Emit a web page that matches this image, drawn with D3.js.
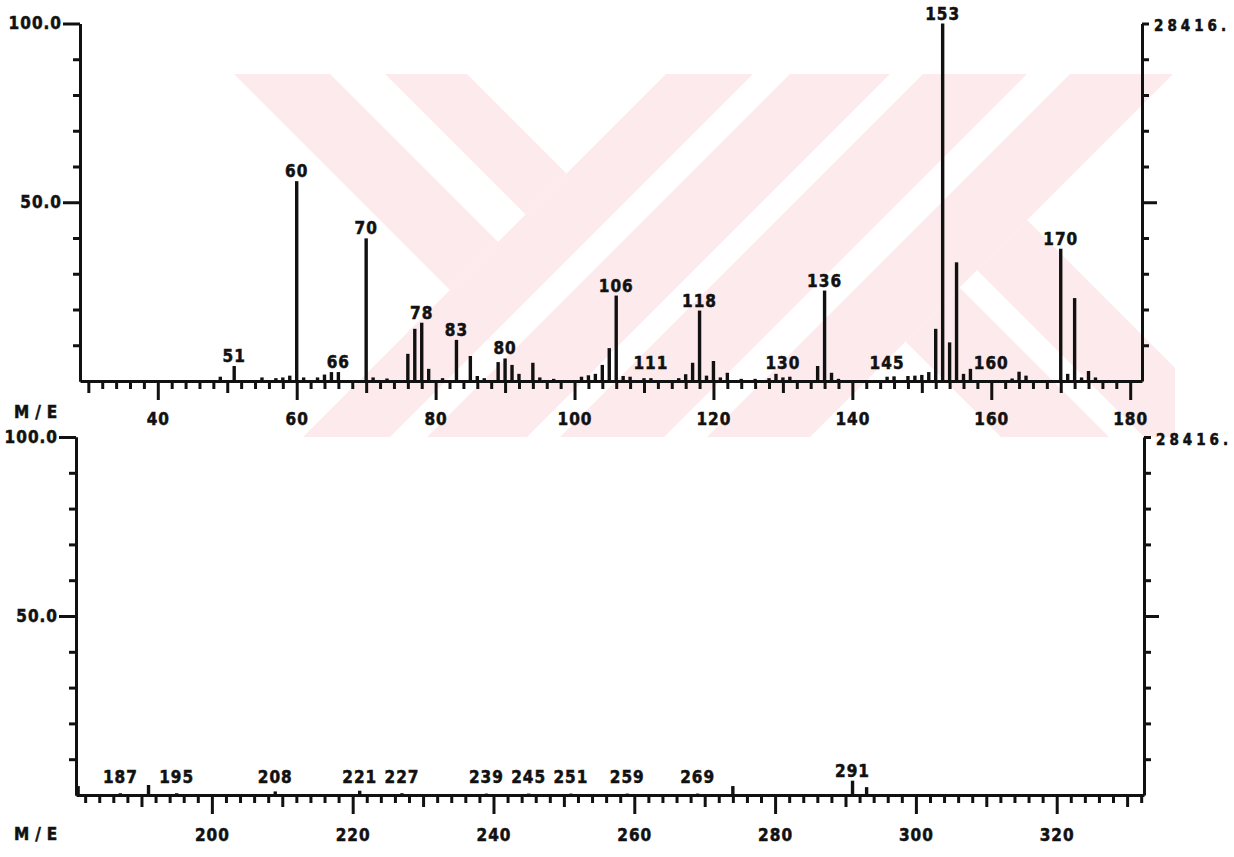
<!DOCTYPE html>
<html>
<head>
<meta charset="utf-8">
<title>M/E spectrum</title>
<script src="https://cdn.jsdelivr.net/npm/d3@7"></script>
<style>
body { margin: 0; background: #fff; }
svg { display: block; }
text { font-family: "DejaVu Sans Condensed", "DejaVu Sans", sans-serif; font-stretch: condensed; font-weight: bold; font-size: 17px; letter-spacing: 1px; fill: #111; stroke: #111; stroke-width: 0.5px; }
.tick line, .domain { stroke: #111; stroke-width: 3px; }
.peak { stroke: #111; stroke-width: 3.4px; }
</style>
</head>
<body>
<div id="graph"></div>
<script>
const width = 1234, height = 857;

// upper sweep, m/e 29 - 181 (percent of base peak)
const topMasses = [49, 51, 55, 57, 58, 59, 60, 61, 63, 64, 65, 66, 70, 71, 73, 76, 77, 78, 79, 81,
  83, 85, 86, 87, 89, 90, 91, 92, 94, 95, 97, 101, 102, 103, 104, 105, 106, 107, 108, 110,
  111, 115, 116, 117, 118, 119, 120, 121, 122, 124, 126, 128, 129, 130, 131, 135, 136, 137, 138, 145,
  146, 148, 149, 150, 151, 152, 153, 154, 155, 156, 157, 163, 164, 165, 170, 171, 172, 173, 174, 175];
const topIntensities = [1.2, 4.2, 1.0, 0.8, 1.0, 1.5, 55.9, 1.0, 1.0, 1.8, 2.5, 2.5, 39.9, 1.0, 0.7, 7.6, 14.6, 16.3, 3.4, 0.8,
  11.5, 7.0, 1.4, 0.8, 5.3, 6.3, 4.5, 2.0, 5.1, 1.0, 0.6, 1.2, 1.6, 2.0, 4.5, 9.2, 23.9, 1.4, 1.2, 0.8,
  0.8, 0.8, 1.9, 5.1, 19.7, 1.5, 5.6, 1.0, 2.3, 0.6, 0.6, 0.8, 2.0, 1.0, 1.2, 4.2, 25.3, 2.3, 0.6, 1.2,
  1.3, 1.4, 1.5, 1.7, 2.5, 14.6, 100, 10.8, 33.2, 2.0, 3.4, 0.7, 2.6, 1.5, 37.0, 2.0, 23.2, 1.0, 2.8, 1.0];
const topLabelText = ["51", "60", "66", "70", "78", "83", "80", "106", "111", "118", "130", "136", "145", "153", "160", "170"];
const topLabelMass = [51, 60, 66, 70, 78, 83, 90, 106, 111, 118, 130, 136, 145, 153, 160, 170];
const topTickLabels = [40, 60, 80, 100, 120, 140, 160, 180];

// lower sweep, m/e 181 - 332
const lowMasses = [181, 187, 191, 195, 209, 221, 227, 239, 245, 251, 259, 269, 274, 291, 293];
const lowIntensities = [2.5, 0.5, 2.8, 0.5, 1.0, 1.2, 0.5, 0.4, 0.4, 0.4, 0.4, 0.4, 2.5, 4.0, 2.2];
const lowLabelText = ["187", "195", "208", "221", "227", "239", "245", "251", "259", "269", "291"];
const lowLabelMass = [187, 195, 209, 221, 227, 239, 245, 251, 259, 269, 291];
const lowTickLabels = [200, 220, 240, 260, 280, 300, 320];

const yMajor = [50, 100];
const yMinor = [10, 20, 30, 40, 60, 70, 80, 90];
const baseCount = "28416.";
const axisName = "M/E";

// watermark bands, in (x+y, x-y) coordinates
const logoBands = [
  [0, 740, 160, 256], [0, 740, 311, 393],
  [740, 827, -800, 1600], [864, 964, -800, 1600], [997, 1101, -800, 1600], [1144, 1247, -800, 1600],
  [1247, 2400, 564, 672], [1247, 2400, 707, 807]
];

let svg =
d3.select("#graph").
append("svg").
attr("width", width).
attr("height", height);

svg.append("rect").attr("width", width).attr("height", height).attr("fill", "#fff");

svg.append("clipPath").attr("id", "logoClip").
append("rect").attr("x", 200).attr("y", 74).attr("width", 975).attr("height", 363);

svg.append("g").attr("clip-path", "url(#logoClip)").
selectAll("polygon").
data(logoBands).
join("polygon").
attr("fill", "#fdeaed").
attr("points", b => {
  const c = [[b[0], b[2]], [b[0], b[3]], [b[1], b[3]], [b[1], b[2]]];
  return c.map(p => [(p[0] + p[1]) / 2, (p[0] - p[1]) / 2].join(",")).join(" ");
});

const panels = [
  {masses: topMasses, ints: topIntensities, labels: topLabelText, labelMasses: topLabelMass, ticks: topTickLabels,
   domain: [28.8, 181.7], left: 80, right: 1142, top: 23.5, base: 381, tickPad: 12.5, meY: 418, countY: 31},
  {masses: lowMasses, ints: lowIntensities, labels: lowLabelText, labelMasses: lowLabelMass, ticks: lowTickLabels,
   domain: [180.7, 332.4], left: 76, right: 1144, top: 437, base: 795, tickPad: 14.5, meY: 840, countY: 445}
];

panels.forEach(p => {
  const x = d3.scaleLinear().domain(p.domain).range([p.left, p.right]);
  const y = d3.scaleLinear().domain([0, 100]).range([p.base, p.top]);
  const g = svg.append("g");

  const evens = d3.range(Math.ceil(p.domain[0] / 2) * 2, p.domain[1], 2);

  // m/e ticks hang below the baseline
  g.append("g").attr("transform", "translate(0," + p.base + ")").
  call(d3.axisBottom(x).tickValues(evens.filter(d => d % 10 !== 0)).tickSize(8).tickSizeOuter(0).tickFormat(""));
  g.append("g").attr("transform", "translate(0," + p.base + ")").
  call(d3.axisBottom(x).tickValues(evens.filter(d => d % 10 === 0 && d % 20 !== 0)).tickSize(12).tickSizeOuter(0).tickFormat("")).
  call(a => a.select(".domain").remove());
  g.append("g").attr("transform", "translate(0," + p.base + ")").
  call(d3.axisBottom(x).tickValues(p.ticks).tickSize(19).tickSizeOuter(0).tickPadding(p.tickPad)).
  call(a => a.select(".domain").remove());

  // intensity axes
  g.append("g").attr("transform", "translate(" + p.left + ",0)").
  call(d3.axisLeft(y).tickValues(yMinor).tickSize(7).tickSizeOuter(0).tickFormat(""));
  g.append("g").attr("transform", "translate(" + p.left + ",0)").
  call(d3.axisLeft(y).tickValues(yMajor).tickSize(17).tickSizeOuter(0).tickPadding(1).tickFormat(d3.format(".1f")));
  g.append("g").attr("transform", "translate(" + p.right + ",0)").
  call(d3.axisRight(y).tickValues(yMinor.concat([100])).tickSize(7).tickSizeOuter(0).tickFormat(""));
  g.append("g").attr("transform", "translate(" + p.right + ",0)").
  call(d3.axisRight(y).tickValues([50]).tickSize(15).tickSizeOuter(0).tickFormat("")).
  call(a => a.select(".domain").remove());

  // peaks
  g.selectAll(".peak").
  data(d3.zip(p.masses, p.ints)).
  join("line").
  attr("class", "peak").
  attr("x1", d => x(d[0])).
  attr("x2", d => x(d[0])).
  attr("y1", p.base).
  attr("y2", d => y(d[1]));

  // peak labels
  g.selectAll(".plabel").
  data(d3.zip(p.labels, p.labelMasses)).
  join("text").
  attr("class", "plabel").
  attr("text-anchor", "middle").
  attr("x", d => x(d[1])).
  attr("y", d => {
    const i = p.masses.indexOf(d[1]);
    const v = i < 0 ? 0 : p.ints[i];
    return Math.min(y(v) - 4, p.base - 12);
  }).
  text(d => d[0]);

  g.append("text").attr("x", 14).attr("y", p.meY).style("letter-spacing", "6px").text(axisName);
  g.append("text").attr("x", p.right + 12).attr("y", p.countY).
  style("font-size", "15px").style("letter-spacing", "4px").text(baseCount);
});
</script>
</body>
</html>
